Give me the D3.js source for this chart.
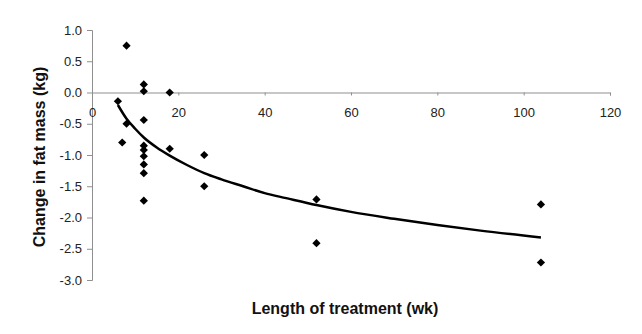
<!DOCTYPE html>
<html>
<head>
<meta charset="utf-8">
<script src="https://cdn.jsdelivr.net/npm/d3@7"></script>
<style>
  body { margin: 0; background: #fff; }
  text { font-family: "Liberation Sans", Arial, Helvetica, sans-serif; }
</style>
</head>
<body>
<div id="chart"></div>
<script>
var width = 642, height = 334;
var left = 92, top_ = 30, plotW = 518, plotH = 250;

// weeks of treatment and change in fat mass (kg) for each study
var weeks = [8, 12, 12, 18, 6, 8, 12, 7, 12, 12, 12, 12, 12, 12, 18, 26, 26, 52, 52, 104, 104];
var fatChange = [0.75, 0.13, 0.02, 0.0, -0.14, -0.5, -0.44, -0.8, -0.85, -0.92, -1.02, -1.15, -1.29, -1.73, -0.9, -1.0, -1.5, -1.71, -2.41, -1.79, -2.72];

// trend line
var trendWeeks = [6, 8, 10, 12, 15, 18, 22, 26, 30, 35, 40, 45, 52, 60, 70, 80, 90, 104];
var trendFat = [-0.20, -0.42, -0.58, -0.72, -0.88, -1.01, -1.16, -1.29, -1.39, -1.50, -1.61, -1.69, -1.80, -1.91, -2.02, -2.12, -2.21, -2.32];

var xTicks = [0, 20, 40, 60, 80, 100, 120];
var yTicks = [1.0, 0.5, 0.0, -0.5, -1.0, -1.5, -2.0, -2.5, -3.0];

var svg = d3.select("#chart").append("svg")
    .attr("width", width).attr("height", height);

var g = svg.append("g").attr("transform", "translate(" + left + "," + top_ + ")");

var xScale = d3.scaleLinear().domain([0, 120]).range([0, plotW]);
var yScale = d3.scaleLinear().domain([-3, 1]).range([plotH, 0]);

var axisColor = "#8f8f8f";

// y axis
var yAxis = d3.axisLeft(yScale).tickValues(yTicks)
    .tickFormat(d3.format(".1f")).tickSize(5).tickPadding(5);
var gy = g.append("g").call(yAxis);
gy.select(".domain").attr("stroke", axisColor);
gy.selectAll(".tick line").attr("stroke", axisColor);
gy.selectAll(".tick text").attr("fill", "#222").style("font-size", "13px")
    .text(function(d) { return d3.format(".1f")(d).replace("−", "-"); });

// x axis sits at y = 0
var xAxis = d3.axisBottom(xScale).tickValues(xTicks).tickSize(3).tickPadding(12);
var gx = g.append("g").attr("transform", "translate(0," + yScale(0) + ")").call(xAxis);
gx.select(".domain").attr("stroke", axisColor);
gx.selectAll(".tick line").attr("stroke", axisColor);
gx.selectAll(".tick text").attr("fill", "#222").style("font-size", "13px");

// trend line
var line = d3.line()
    .x(function(d, i) { return xScale(trendWeeks[i]); })
    .y(function(d) { return yScale(d); })
    .curve(d3.curveMonotoneX);
g.append("path").datum(trendFat)
    .attr("d", line)
    .attr("fill", "none")
    .attr("stroke", "#000")
    .attr("stroke-width", 2.5);

// points
var diamond = d3.symbol().type(d3.symbolSquare).size(34);
g.selectAll(".pt").data(fatChange).enter().append("path")
    .attr("class", "pt")
    .attr("d", diamond)
    .attr("transform", function(d, i) {
        return "translate(" + xScale(weeks[i]) + "," + yScale(d) + ") rotate(45)";
    })
    .attr("fill", "#000");

// axis titles
svg.append("text")
    .attr("transform", "translate(45,157) rotate(-90)")
    .attr("text-anchor", "middle")
    .style("font-size", "16px").style("font-weight", "bold")
    .attr("fill", "#111")
    .text("Change in fat mass (kg)");

svg.append("text")
    .attr("x", 345).attr("y", 314)
    .attr("text-anchor", "middle")
    .style("font-size", "16px").style("font-weight", "bold")
    .attr("fill", "#111")
    .text("Length of treatment (wk)");
</script>
</body>
</html>
